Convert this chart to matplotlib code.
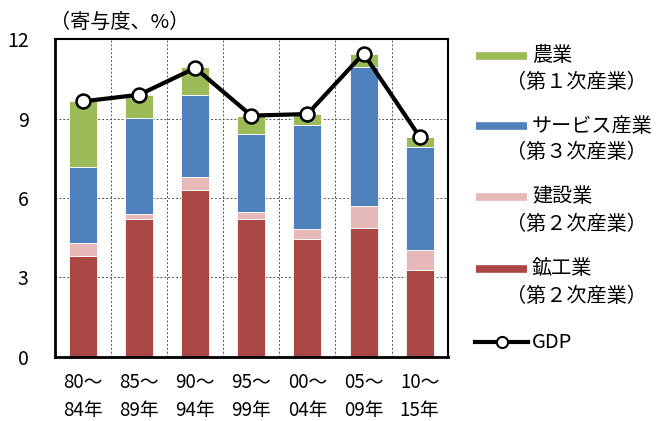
import matplotlib
matplotlib.use("Agg")
import matplotlib.pyplot as plt
from matplotlib.lines import Line2D
import numpy as np

plt.rcParams['font.family'] = ['Noto Sans CJK JP', 'DejaVu Sans']

# Data
periods = ["80～\n84年", "85～\n89年", "90～\n94年", "95～\n99年", "00～\n04年", "05～\n09年", "10～\n15年"]
mining = [3.81, 5.22, 6.29, 5.22, 4.46, 4.86, 3.28]
construction = [0.51, 0.18, 0.51, 0.26, 0.38, 0.85, 0.75]
services = [2.84, 3.63, 3.09, 2.94, 3.91, 5.24, 3.89]
agriculture = [2.50, 0.88, 1.06, 0.70, 0.43, 0.50, 0.40]
gdp = [9.66, 9.91, 10.92, 9.12, 9.18, 11.47, 8.32]

c_agri = "#9BBB59"
c_serv = "#4F81BD"
c_cons = "#E6B9B8"
c_mine = "#AA4644"

fig = plt.figure(figsize=(6.61, 4.21), dpi=100)
ax = fig.add_axes([0.0832, 0.1527, 0.5941, 0.7535])

x = np.arange(len(periods))
w = 0.5
b1 = np.array(mining)
b2 = b1 + np.array(construction)
b3 = b2 + np.array(services)
ax.bar(x, mining, w, color=c_mine, edgecolor="white", linewidth=0.6, zorder=2)
ax.bar(x, construction, w, bottom=b1, color=c_cons, edgecolor="white", linewidth=0.6, zorder=2)
ax.bar(x, services, w, bottom=b2, color=c_serv, edgecolor="white", linewidth=0.6, zorder=2)
ax.bar(x, agriculture, w, bottom=b3, color=c_agri, edgecolor="white", linewidth=0.6, zorder=2)
ax.plot(x, gdp, color="black", lw=3, marker="o", ms=10, mfc="white", mec="black", mew=1.8, zorder=3)

ax.set_xlim(-0.5, len(periods) - 0.5)
ax.set_ylim(0, 12)
ax.set_yticks([0, 3, 6, 9, 12])
ax.set_xticks(x)
ax.set_xticklabels(periods, fontsize=13.5, linespacing=1.45)
ax.set_xticks(x[:-1] + 0.5, minor=True)
ax.tick_params(axis="both", which="both", length=0)
ax.tick_params(axis="y", labelsize=14, pad=19)
ax.tick_params(axis="x", pad=11)
ax.grid(axis="y", which="major", linestyle=(0, (2, 2)), color="#555555", lw=0.7, zorder=0)
ax.grid(axis="x", which="minor", linestyle=(0, (2, 2)), color="#555555", lw=0.7, zorder=0)
for s in ax.spines.values():
    s.set_linewidth(1.5)
ax.spines["left"].set_linewidth(2)
ax.spines["bottom"].set_linewidth(2)

fig.text(0.076, 0.947, "（寄与度、%）", fontsize=14.5, ha="left", va="center")

# Legend
def fy(py):
    return 1 - py / 421

entries = [
    (c_agri, "農業", "（第１次産業）", 55.5),
    (c_serv, "サービス産業", "（第３次産業）", 126),
    (c_cons, "建設業", "（第２次産業）", 197),
    (c_mine, "鉱工業", "（第２次産業）", 269),
]
for col, l1, l2, py in entries:
    fig.add_artist(Line2D([476 / 661, 527 / 661], [fy(py), fy(py)], color=col, lw=5.5, solid_capstyle="butt"))
    fig.text(532 / 661, fy(py), l1, fontsize=14.5, ha="left", va="center")
    fig.text(506 / 661, fy(py + 27), l2, fontsize=14.5, ha="left", va="center")
fig.add_artist(Line2D([475 / 661, 528 / 661], [fy(342), fy(342)], color="black", lw=3))
fig.add_artist(Line2D([501.5 / 661], [fy(342)], marker="o", ms=8, mfc="white", mec="black", mew=1.5))
fig.text(532 / 661, fy(342), "GDP", fontsize=14.5, ha="left", va="center")

fig.savefig("out.png", dpi=100)
